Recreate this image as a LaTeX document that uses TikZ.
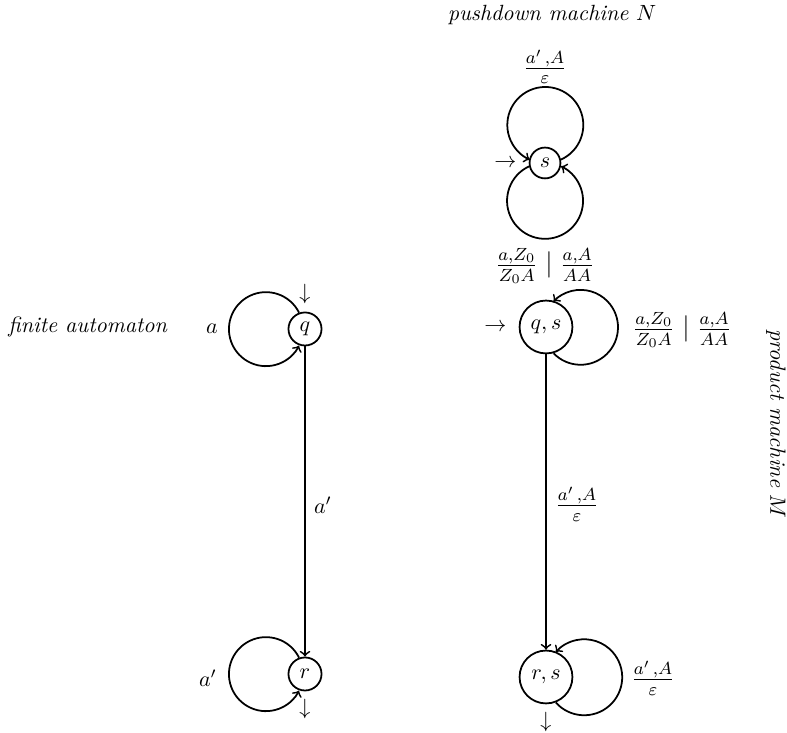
\documentclass[tikz,border=0pt]{standalone}
\usetikzlibrary{positioning}
\begin{document}
\begin{tikzpicture}[x=0.454pt, y=0.454pt, >=to,
    state/.style={circle, draw, thick, inner sep=1pt, minimum size=15pt},
    prodstate/.style={circle, draw, thick, inner sep=1pt, minimum size=24pt},
    trans/.style={->, thick},
    fraclabel/.style={font=\large}]
    \useasboundingbox (0,0) rectangle (787,733);
    % captions
    \node (ncapN) at (552,718) {\textit{pushdown machine} $N$};
    \node (ncapA) at (88,406) {\textit{finite automaton}};
    \node[rotate=-90] (ncapM) at (776,309) {\textit{product machine} $M$};
    % finite automaton
    \node[state] (q) at (305,404) {$q$};
    \node[state] (r) at (305,59) {$r$};
    \node[above=0pt of q] (qin) {$\downarrow$};
    \node[below=0pt of r] (rout) {$\downarrow$};
    \draw[trans] (q.110) arc[start angle=26.5, end angle=333.5, radius=16.8pt];
    \draw[trans] (r.110) arc[start angle=26.5, end angle=333.5, radius=16.8pt];
    \draw[trans] (q) -- (r);
    \node (la) at (212,404) {$a$};
    \node (lr) at (208,55) {$a'$};
    \node (lqr) at (323,228) {$a'$};
    % pushdown machine
    \node[state, minimum size=14pt] (s) at (545,570) {$s$};
    \node[left=2pt of s] (sin) {$\rightarrow$};
    \draw[trans] (s.12) arc[start angle=-65.7, end angle=245.7, radius=17.25pt];
    \draw[trans] (s.192) arc[start angle=114.9, end angle=425.1, radius=17.25pt];
    \node[fraclabel] (lstop) at (545,666) {$\frac{a'\,,A}{\varepsilon}$};
    \node[fraclabel] (lsbot) at (545,467) {$\frac{a,Z_0}{Z_0A} \mid \frac{a,A}{AA}$};
    % product machine
    \node[prodstate] (qs) at (546,406) {$q,s$};
    \node[prodstate] (rs) at (546,56) {$r,s$};
    \node[left=2pt of qs] (qsin) {$\rightarrow$};
    \node[below=0pt of rs] (rsout) {$\downarrow$};
    \draw[trans] (qs.-74) arc[start angle=223.8, end angle=496.2, radius=17pt];
    \draw[trans] (rs.-69) arc[start angle=221.6, end angle=498.4, radius=17.25pt];
    \draw[trans] (qs) -- (rs);
    \node[fraclabel] (lqs) at (682,403) {$\frac{a,Z_0}{Z_0A} \mid \frac{a,A}{AA}$};
    \node[fraclabel] (lrs) at (653,55) {$\frac{a'\,,A}{\varepsilon}$};
    \node[fraclabel] (lqsrs) at (577,229) {$\frac{a'\,,A}{\varepsilon}$};
\end{tikzpicture}
\end{document}
